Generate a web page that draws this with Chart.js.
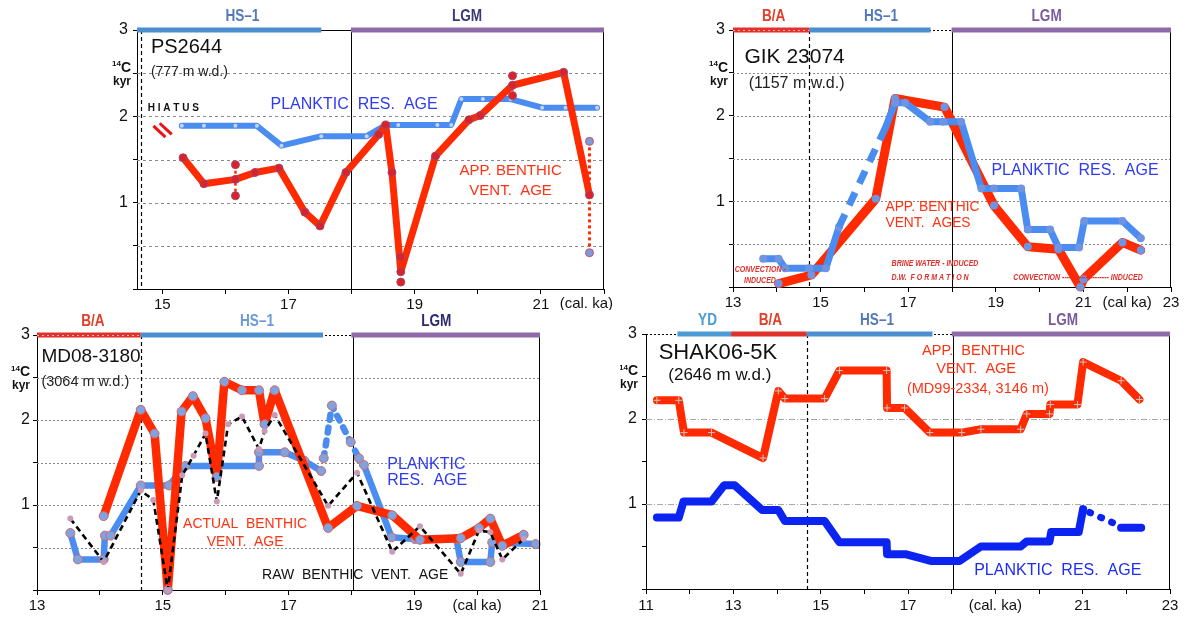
<!DOCTYPE html>
<html><head><meta charset="utf-8">
<script src="https://cdn.jsdelivr.net/npm/chart.js@4/dist/chart.umd.min.js"></script>
<style>
html,body{margin:0;padding:0;background:#fff;}
#wrap{position:relative;width:1187px;height:621px;overflow:hidden;background:#fff;}
canvas{position:absolute;}
</style></head><body>
<div id="wrap">
<canvas id="c1" width="620" height="310" style="left:0;top:0"></canvas>
<canvas id="c2" width="567" height="310" style="left:620px;top:0"></canvas>
<canvas id="c3" width="620" height="311" style="left:0;top:310px"></canvas>
<canvas id="c4" width="567" height="311" style="left:620px;top:310px"></canvas>
</div>
<script>
// ================= DATA =================
// Panel 1: PS2644
const ps_xtick_vals = [15,16,17,18,19,20,21,22];
const ps_xtick_labels = ['15','','17','','19','','21',''];
const ps_plank_x = [15.31,15.66,16.16,16.50,16.89,17.52,18.24,18.54,18.74,19.36,19.58,19.74,20.08,20.52,21.02,21.39,21.89];
const ps_plank_y = [1.89,1.89,1.89,1.89,1.66,1.77,1.77,1.90,1.90,1.90,1.90,2.20,2.20,2.20,2.10,2.10,2.10];
const ps_benth_x = [15.33,15.66,16.16,16.47,16.85,17.26,17.50,17.91,18.43,18.54,18.64,18.78,19.33,19.86,20.04,20.55,21.36,21.77];
const ps_benth_y = [1.52,1.22,1.27,1.35,1.40,0.89,0.73,1.35,1.79,1.90,1.35,0.20,1.54,1.96,2.01,2.36,2.51,1.09];
const ps_err1_x = [16.16,16.16]; const ps_err1_y = [1.44,1.08];
const ps_err2_x = [20.55,20.55]; const ps_err2_y = [2.47,2.24];
const ps_err3_x = [21.77,21.77]; const ps_err3_y = [1.71,0.42];
const ps_err4_x = [18.78,18.78]; const ps_err4_y = [0.37,0.08];
const ps_hiatus1_x = [14.86,15.05]; const ps_hiatus1_y = [1.89,1.76];
const ps_hiatus2_x = [14.96,15.15]; const ps_hiatus2_y = [1.92,1.79];
const ps_period_names = ['HS–1','LGM'];
const ps_period_start = [14.6,17.99];
const ps_period_end = [17.52,22.0];

// Panel 2: GIK 23074
const gik_xtick_vals = [13,14,15,16,17,18,19,20,21,22,23];
const gik_xtick_labels = ['13','','15','','17','','19','','21','(cal ka)','23'];
const gik_plank_a_x = [13.69,14.04,14.19,14.74,15.12,15.42];
const gik_plank_a_y = [0.33,0.33,0.22,0.22,0.22,0.70];
const gik_plank_dash_x = [15.42,16.48];
const gik_plank_dash_y = [0.70,1.86];
const gik_plank_b_x = [16.48,16.70,16.93,17.50,17.80,18.21,18.67,18.96,19.58,19.73,20.24,20.43,20.90,21.02,21.89,22.31];
const gik_plank_b_y = [1.86,2.15,2.15,1.93,1.93,1.93,1.15,1.15,1.15,0.67,0.67,0.46,0.46,0.77,0.77,0.57];
const gik_benth_x = [14.04,14.79,16.26,16.70,17.83,18.96,19.73,20.43,20.93,21.00,21.89,22.31];
const gik_benth_y = [0.04,0.14,1.03,2.20,2.10,0.95,0.47,0.44,0.00,0.09,0.52,0.43];
const gik_period_names = ['B/A','HS–1','LGM'];
const gik_period_start = [13.0,14.74,17.99];
const gik_period_end = [14.74,17.51,23.0];

// Panel 3: MD08-3180
const md_xtick_vals = [13,14,15,16,17,18,19,20,21];
const md_xtick_labels = ['13','','15','','17','','19','(cal ka)','21'];
const md_benth_x = [14.06,14.65,14.87,15.08,15.30,15.48,15.68,15.86,15.98,16.26,16.53,16.62,16.78,17.63,18.09,18.65,19.09,19.74,20.03,20.21,20.40,20.74];
const md_benth_y = [0.87,2.12,1.84,0.00,2.10,2.28,2.02,1.33,2.45,2.35,2.35,1.95,2.35,0.73,0.99,0.88,0.59,0.61,0.73,0.84,0.52,0.65];
const md_plank_a_x = [13.53,13.65,14.06,14.08,14.17,14.65,15.10,15.36,16.53,16.53,16.94,17.25,17.52];
const md_plank_a_y = [0.67,0.36,0.36,0.64,0.64,1.23,1.23,1.46,1.46,1.62,1.62,1.52,1.40];
const md_plank_dot_x = [17.56,17.69,17.99,18.12];
const md_plank_dot_y = [1.55,2.17,1.74,1.55];
const md_plank_b_x = [18.20,18.64,19.01,19.67,19.74,20.21,20.24,20.93];
const md_plank_b_y = [1.47,0.62,0.60,0.60,0.33,0.33,0.56,0.54];
const md_raw_x = [13.53,14.06,14.65,14.85,15.08,15.31,15.49,15.68,15.86,16.04,16.26,16.53,16.62,16.78,17.63,18.09,18.65,19.09,19.74,20.03,20.21,20.40,20.74];
const md_raw_y = [0.84,0.33,1.17,1.06,0.00,1.35,1.58,1.84,1.04,1.95,2.04,1.66,1.87,2.06,0.99,1.38,0.45,0.75,0.19,0.70,0.68,0.36,0.60];
const md_period_names = ['B/A','HS–1','LGM'];
const md_period_start = [13.0,14.65,18.0];
const md_period_end = [14.65,17.55,21.0];

// Panel 4: SHAK06-5K
const sh_xtick_vals = [11,12,13,14,15,16,17,18,19,20,21,22,23];
const sh_xtick_labels = ['11','','13','','15','','17','','(cal. ka)','','21','','23'];
const sh_benth_x = [11.25,11.75,11.87,12.50,13.68,14.03,14.18,15.09,15.43,16.51,16.52,16.92,17.50,18.23,18.67,19.58,19.72,20.24,20.26,20.88,21.01,21.88,22.30];
const sh_benth_y = [2.22,2.22,1.84,1.84,1.54,2.33,2.24,2.24,2.57,2.57,2.13,2.13,1.84,1.84,1.88,1.88,2.06,2.06,2.17,2.17,2.67,2.45,2.23];
const sh_plank_x = [11.25,11.75,11.86,12.50,12.79,13.03,13.66,14.03,14.18,15.09,15.43,16.51,16.52,16.94,17.52,18.18,18.67,19.58,19.72,20.24,20.28,20.91,21.01];
const sh_plank_y = [0.84,0.84,1.03,1.03,1.22,1.22,0.93,0.93,0.80,0.80,0.55,0.55,0.41,0.41,0.33,0.33,0.50,0.50,0.56,0.56,0.67,0.67,0.94];
const sh_plank_dot_x = [21.16,21.86];
const sh_plank_dot_y = [0.90,0.74];
const sh_plank_end_x = [21.88,22.34];
const sh_plank_end_y = [0.72,0.72];
const sh_period_names = ['YD','B/A','HS–1','LGM'];
const sh_period_start = [11.72,12.95,14.68,18.0];
const sh_period_end = [12.95,14.68,17.56,23.0];

const y_tick_vals = [0,0.5,1,1.5,2,2.5,3];
const y_tick_labels = ['','','1','','2','','3'];

// ================= STYLE / HELPERS =================
const FONT = "'Liberation Sans', Arial, Helvetica, sans-serif";
const RED = '#ff2a00';
const BLUE = '#4a8cf0';
const DBLUE = '#0c24f2';
const TXT_RED = '#ff3212';
const TXT_BLUE = '#2f3bf2';

function mk(xs, ys, o) {
  return Object.assign({
    type: 'line',
    data: xs.map((x, i) => ({x: x, y: ys[i]})),
    borderColor: RED, borderWidth: 7, pointRadius: 0, pointHoverRadius: 0,
    tension: 0, clip: false, fill: false, borderJoinStyle: 'round', borderCapStyle: 'round',
    pointBorderWidth: 0
  }, o);
}

function decoPlugin(P) {
  return {
    id: 'deco',
    beforeDatasetsDraw(chart) {
      const ctx = chart.ctx, a = chart.chartArea, X = chart.scales.x, Y = chart.scales.y;
      ctx.save();
      ctx.lineWidth = 1; ctx.strokeStyle = P.gridColor; ctx.setLineDash(P.gridDash);
      P.gridY.forEach(v => {
        const py = Math.round(Y.getPixelForValue(v)) + 0.5;
        ctx.beginPath(); ctx.moveTo(a.left, py); ctx.lineTo(a.right, py); ctx.stroke();
      });
      ctx.strokeStyle = '#000'; ctx.setLineDash([4, 3]); ctx.lineWidth = 1.2;
      let px = Math.round(X.getPixelForValue(P.baX)) + 0.5;
      ctx.beginPath(); ctx.moveTo(px, a.top); ctx.lineTo(px, a.bottom); ctx.stroke();
      ctx.setLineDash([]); ctx.lineWidth = 1;
      px = Math.round(X.getPixelForValue(P.lgmX)) + 0.5;
      ctx.beginPath(); ctx.moveTo(px, a.top); ctx.lineTo(px, a.bottom); ctx.stroke();
      ctx.restore();
    },
    afterDatasetsDraw(chart) {
      const ctx = chart.ctx, a = chart.chartArea, X = chart.scales.x, Y = chart.scales.y;
      ctx.save();
      ctx.strokeStyle = '#000'; ctx.lineWidth = 1;
      const rx = Math.round(a.right) - 0.5;
      ctx.beginPath(); ctx.moveTo(rx, a.top); ctx.lineTo(rx, a.bottom); ctx.stroke();
      const ty = Math.round(a.top) + 0.5;
      ctx.setLineDash(P.topDotted ? [2, 2] : []);
      ctx.beginPath(); ctx.moveTo(a.left, ty); ctx.lineTo(a.right, ty); ctx.stroke();
      ctx.setLineDash([]);
      P.periods.names.forEach((nm, i) => {
        const x0 = X.getPixelForValue(P.periods.start[i]);
        const x1 = X.getPixelForValue(P.periods.end[i]);
        ctx.fillStyle = P.periods.barColors[i];
        ctx.fillRect(x0, a.top - 2.5, x1 - x0, 5);
        if (P.periods.dotted && P.periods.dotted[i]) {
          ctx.strokeStyle = 'rgba(255,200,200,0.9)'; ctx.lineWidth = 1; ctx.setLineDash([2, 3]);
          ctx.beginPath(); ctx.moveTo(x0, a.top + 0.5); ctx.lineTo(x1, a.top + 0.5); ctx.stroke();
          ctx.setLineDash([]);
        }
        ctx.save();
        ctx.translate(X.getPixelForValue(P.periods.labelX[i]), a.top - 13);
        ctx.scale(0.85, 1);
        ctx.font = 'bold 16px ' + FONT; ctx.fillStyle = P.periods.labelColors[i];
        ctx.textAlign = 'center'; ctx.textBaseline = 'middle';
        ctx.fillText(nm, 0, 0);
        ctx.restore();
      });
      const kx = a.left - P.kyrGap;
      ctx.fillStyle = '#111'; ctx.textAlign = 'right'; ctx.textBaseline = 'middle';
      ctx.font = 'bold 14px ' + FONT;
      const cy = Y.getPixelForValue(2.56);
      ctx.fillText('C', kx, cy);
      const cw = ctx.measureText('C').width;
      ctx.font = 'bold 8px ' + FONT;
      ctx.fillText('14', kx - cw, cy - 4);
      ctx.font = 'bold 12px ' + FONT;
      ctx.fillText('kyr', kx, Y.getPixelForValue(2.40));
      P.texts.forEach(T => {
        ctx.save();
        ctx.translate(X.getPixelForValue(T.x), Y.getPixelForValue(T.y));
        ctx.scale(T.sx || 1, 1);
        ctx.font = T.font; ctx.fillStyle = T.color || '#111';
        ctx.textAlign = T.align || 'left'; ctx.textBaseline = 'middle';
        ctx.fillText(T.t, 0, 0);
        ctx.restore();
      });
      if (P.extraX) {
        ctx.font = '15px ' + FONT; ctx.fillStyle = '#111';
        ctx.textAlign = 'center'; ctx.textBaseline = 'top';
        ctx.fillText(P.extraX.t, X.getPixelForValue(P.extraX.x), a.bottom + P.extraX.dy);
      }
      ctx.restore();
    }
  };
}

function panel(id, P) {
  const ds = P.datasets.map((d, i) => Object.assign({order: -i}, d));
  return new Chart(document.getElementById(id), {
    type: 'line',
    data: {datasets: ds},
    options: {
      responsive: false, animation: false, devicePixelRatio: 1, events: [],
      layout: {padding: {top: P.padTop, right: P.padRight, left: 0, bottom: 0}},
      plugins: {legend: {display: false}, tooltip: {enabled: false}},
      scales: {
        x: {
          type: 'linear', min: P.xmin, max: P.xmax,
          afterBuildTicks: s => { s.ticks = P.xTickVals.map(v => ({value: v})); },
          afterFit: s => { s.height = P.xAxisH; s.paddingLeft = 0; s.paddingRight = 0; },
          ticks: {autoSkip: false, maxRotation: 0, minRotation: 0, padding: P.xTickPad,
            font: {family: FONT, size: 15}, color: '#111',
            callback: v => { const k = P.xTickVals.indexOf(v); return k >= 0 ? P.xTickLabels[k] : ''; }},
          grid: {drawOnChartArea: false, drawTicks: true, tickLength: 5, color: '#000', tickWidth: 1},
          border: {display: true, color: '#000', width: 1}
        },
        y: {
          type: 'linear', min: 0, max: 3,
          afterBuildTicks: s => { s.ticks = y_tick_vals.map(v => ({value: v})); },
          afterFit: s => { s.width = P.yAxisW; s.paddingTop = 0; s.paddingBottom = 0; },
          ticks: {autoSkip: false, padding: P.yTickPad, font: {family: FONT, size: 16}, color: '#111',
            callback: v => { const k = y_tick_vals.indexOf(v); return k >= 0 ? y_tick_labels[k] : ''; }},
          grid: {drawOnChartArea: false, drawTicks: true, tickLength: 4, color: '#000', tickWidth: 1},
          border: {display: true, color: '#000', width: 1}
        }
      }
    },
    plugins: [decoPlugin(P)]
  });
}

// ================= PANEL 1 =================
const redPt1 = {pointRadius: 4, pointBackgroundColor: '#dc2228', pointBorderColor: '#9a4a70', pointBorderWidth: 1};
panel('c1', {
  xmin: 14.6, xmax: 22.0, xTickVals: ps_xtick_vals, xTickLabels: ps_xtick_labels,
  padTop: 30, padRight: 16, xAxisH: 21, yAxisW: 137, xTickPad: 2, yTickPad: 5, kyrGap: 6,
  gridY: [0.5, 1, 1.5, 2, 2.5], gridDash: [3, 3], gridColor: '#8a8a8a',
  baX: 14.67, lgmX: 17.99, topDotted: false,
  periods: {names: ps_period_names, start: ps_period_start, end: ps_period_end,
    labelX: [16.27, 19.83], barColors: ['#4b8fd0', '#8e6aa8'], labelColors: ['#5479b8', '#3a3878']},
  extraX: {t: '(cal. ka)', x: 21.72, dy: 7},
  datasets: [
    mk(ps_plank_x, ps_plank_y, {borderColor: BLUE, borderWidth: 6, pointRadius: 2, pointBackgroundColor: '#c4d4f2'}),
    mk(ps_err3_x, ps_err3_y, {borderWidth: 3, borderDash: [3, 3], borderCapStyle: 'butt', pointRadius: 4, pointBackgroundColor: '#7f9ad8', pointBorderColor: '#c05070', pointBorderWidth: 1}),
    mk(ps_err1_x, ps_err1_y, Object.assign({borderWidth: 2.5, borderDash: [3, 3], borderCapStyle: 'butt'}, redPt1)),
    mk(ps_err2_x, ps_err2_y, Object.assign({borderWidth: 2.5, borderDash: [3, 3], borderCapStyle: 'butt'}, redPt1)),
    mk(ps_benth_x, ps_benth_y, Object.assign({borderWidth: 7}, redPt1)),
    mk(ps_err4_x, ps_err4_y, Object.assign({borderWidth: 0, showLine: false}, redPt1)),
    mk(ps_hiatus1_x, ps_hiatus1_y, {borderColor: '#ee1111', borderWidth: 3, borderCapStyle: 'butt'}),
    mk(ps_hiatus2_x, ps_hiatus2_y, {borderColor: '#ee1111', borderWidth: 3, borderCapStyle: 'butt'})
  ],
  texts: [
    {t: 'PS2644', x: 14.82, y: 2.80, font: '20px ' + FONT, color: '#111'},
    {t: '(777 m w.d.)', x: 14.82, y: 2.51, font: '14px ' + FONT, color: '#222'},
    {t: 'H I A T U S', x: 14.77, y: 2.09, font: 'bold 10px ' + FONT, color: '#111'},
    {t: 'PLANKTIC  RES.  AGE', x: 18.04, y: 2.14, font: '16px ' + FONT, color: TXT_BLUE, align: 'center'},
    {t: 'APP. BENTHIC', x: 20.52, y: 1.37, font: '15px ' + FONT, color: TXT_RED, align: 'center'},
    {t: 'VENT.  AGE', x: 20.52, y: 1.14, font: '15px ' + FONT, color: TXT_RED, align: 'center'}
  ]
});

// ================= PANEL 2 =================
const ptB = {pointRadius: 4, pointBackgroundColor: '#6e94e2', pointBorderWidth: 0};
panel('c2', {
  xmin: 13, xmax: 23, xTickVals: gik_xtick_vals, xTickLabels: gik_xtick_labels,
  padTop: 30, padRight: 16, xAxisH: 23, yAxisW: 113, xTickPad: 2, yTickPad: 4, kyrGap: 5,
  gridY: [0.5, 1, 1.5, 2, 2.5], gridDash: [2, 2], gridColor: '#8a8a8a',
  baX: 14.74, lgmX: 17.99, topDotted: true,
  periods: {names: gik_period_names, start: gik_period_start, end: gik_period_end,
    labelX: [13.93, 16.38, 20.16], barColors: ['#e4302a', '#4b8fd0', '#8e6aa8'],
    labelColors: ['#e0402a', '#5479b8', '#7a5aa0'], dotted: [true, false, false]},
  datasets: [
    mk(gik_benth_x, gik_benth_y, Object.assign({borderWidth: 9}, ptB)),
    mk(gik_plank_a_x, gik_plank_a_y, Object.assign({borderColor: BLUE, borderWidth: 7}, ptB)),
    mk(gik_plank_dash_x, gik_plank_dash_y, {borderColor: BLUE, borderWidth: 7, borderDash: [14, 10], borderCapStyle: 'butt'}),
    mk(gik_plank_b_x, gik_plank_b_y, Object.assign({borderColor: BLUE, borderWidth: 7}, ptB, {pointRadius: gik_plank_b_x.map((v, i) => i === 0 ? 0 : 4)}))
  ],
  texts: [
    {t: 'GIK 23074', x: 13.26, y: 2.68, font: '21px ' + FONT, color: '#111'},
    {t: '(1157 m w.d.)', x: 13.36, y: 2.37, font: '16px ' + FONT, color: '#222'},
    {t: 'APP. BENTHIC', x: 16.48, y: 0.94, font: '15px ' + FONT, color: TXT_RED, sx: 0.92},
    {t: 'VENT.  AGES', x: 16.48, y: 0.75, font: '15px ' + FONT, color: TXT_RED, sx: 0.92},
    {t: 'PLANKTIC  RES.  AGE', x: 18.9, y: 1.36, font: '16px ' + FONT, color: TXT_BLUE},
    {t: 'CONVECTION -', x: 13.04, y: 0.20, font: 'italic bold 9px ' + FONT, color: '#e0302a', sx: 0.78},
    {t: 'INDUCED', x: 13.25, y: 0.07, font: 'italic bold 9px ' + FONT, color: '#e0302a', sx: 0.78},
    {t: 'BRINE WATER - INDUCED', x: 16.62, y: 0.27, font: 'italic bold 9px ' + FONT, color: '#e0302a', sx: 0.78},
    {t: 'D.W.  F O R M A T I O N', x: 16.62, y: 0.11, font: 'italic bold 9px ' + FONT, color: '#e0302a', sx: 0.78},
    {t: 'CONVECTION -------------------- INDUCED', x: 19.40, y: 0.11, font: 'italic bold 9px ' + FONT, color: '#e0302a', sx: 0.78}
  ]
});

// ================= PANEL 3 =================
const ptM = {pointRadius: 4.5, pointBackgroundColor: '#7fa2e0', pointBorderColor: '#d06a6a', pointBorderWidth: 1};
panel('c3', {
  xmin: 13, xmax: 21, xTickVals: md_xtick_vals, xTickLabels: md_xtick_labels,
  padTop: 25, padRight: 80, xAxisH: 31, yAxisW: 37, xTickPad: 2, yTickPad: 3, kyrGap: 7,
  gridY: [0.5, 1, 1.5, 2, 2.5], gridDash: [2, 2], gridColor: '#8a8a8a',
  baX: 14.65, lgmX: 18.02, topDotted: true,
  periods: {names: md_period_names, start: md_period_start, end: md_period_end,
    labelX: [13.89, 16.5, 19.35], barColors: ['#e4302a', '#4b8fd0', '#8e6aa8'],
    labelColors: ['#e0402a', '#6a9ad8', '#2b2a6e'], dotted: [true, false, false]},
  datasets: [
    mk(md_plank_a_x, md_plank_a_y, Object.assign({borderColor: BLUE, borderWidth: 6.5}, ptM)),
    mk(md_plank_dot_x, md_plank_dot_y, Object.assign({borderColor: BLUE, borderWidth: 6.5, borderDash: [5, 8]}, ptM)),
    mk(md_plank_b_x, md_plank_b_y, Object.assign({borderColor: BLUE, borderWidth: 6.5}, ptM)),
    mk(md_benth_x, md_benth_y, Object.assign({borderWidth: 8.5}, ptM)),
    mk(md_raw_x, md_raw_y, {borderColor: '#000', borderWidth: 2.6, borderDash: [6, 4], borderCapStyle: 'butt', pointRadius: 3, pointBackgroundColor: '#c99ab8', pointBorderWidth: 0})
  ],
  texts: [
    {t: 'MD08-3180', x: 13.07, y: 2.74, font: '19px ' + FONT, color: '#111'},
    {t: '(3064 m w.d.)', x: 13.07, y: 2.45, font: '14.5px ' + FONT, color: '#222'},
    {t: 'ACTUAL  BENTHIC', x: 16.31, y: 0.78, font: '15px ' + FONT, color: TXT_RED, align: 'center', sx: 0.93},
    {t: 'VENT.  AGE', x: 16.31, y: 0.57, font: '15px ' + FONT, color: TXT_RED, align: 'center', sx: 0.93},
    {t: 'PLANKTIC', x: 18.57, y: 1.48, font: '16px ' + FONT, color: TXT_BLUE},
    {t: 'RES.  AGE', x: 18.57, y: 1.29, font: '16px ' + FONT, color: TXT_BLUE},
    {t: 'RAW  BENTHIC  VENT.  AGE', x: 18.06, y: 0.17, font: '14px ' + FONT, color: '#111', align: 'center'}
  ]
});

// ================= PANEL 4 =================
const ptS = {pointRadius: 3.5, pointStyle: 'cross', pointBorderColor: '#c8c8c8', pointBorderWidth: 1};
panel('c4', {
  xmin: 11, xmax: 23, xTickVals: sh_xtick_vals, xTickLabels: sh_xtick_labels,
  padTop: 24, padRight: 17, xAxisH: 32, yAxisW: 26, xTickPad: 3, yTickPad: 5, kyrGap: 8,
  gridY: [1, 2], gridDash: [6, 2, 1, 2], gridColor: '#a8a8a8',
  baX: 14.68, lgmX: 18.03, topDotted: true,
  periods: {names: sh_period_names, start: sh_period_start, end: sh_period_end,
    labelX: [12.41, 13.85, 16.29, 20.55], barColors: ['#4a9ad5', '#e0302a', '#4b8fd0', '#8e6aa8'],
    labelColors: ['#4a9ad5', '#e0402a', '#5479b8', '#7a5a9a'], dotted: [false, false, false, false]},
  datasets: [
    mk(sh_benth_x, sh_benth_y, Object.assign({borderWidth: 8}, ptS)),
    mk(sh_plank_x, sh_plank_y, {borderColor: DBLUE, borderWidth: 8}),
    mk(sh_plank_dot_x, sh_plank_dot_y, {borderColor: DBLUE, borderWidth: 7, borderDash: [1, 11]}),
    mk(sh_plank_end_x, sh_plank_end_y, {borderColor: DBLUE, borderWidth: 8})
  ],
  texts: [
    {t: 'SHAK06-5K', x: 11.29, y: 2.78, font: '22px ' + FONT, color: '#111'},
    {t: '(2646 m w.d.)', x: 12.69, y: 2.51, font: '17px ' + FONT, color: '#111', align: 'center'},
    {t: 'APP.  BENTHIC', x: 18.5, y: 2.80, font: '14.5px ' + FONT, color: TXT_RED, align: 'center'},
    {t: 'VENT.  AGE', x: 18.56, y: 2.59, font: '14.5px ' + FONT, color: TXT_RED, align: 'center'},
    {t: '(MD99-2334, 3146 m)', x: 18.6, y: 2.35, font: '14.5px ' + FONT, color: TXT_RED, align: 'center'},
    {t: 'PLANKTIC  RES.  AGE', x: 20.43, y: 0.22, font: '16px ' + FONT, color: '#1e2cf5', align: 'center'}
  ]
});
</script>
</body></html>
